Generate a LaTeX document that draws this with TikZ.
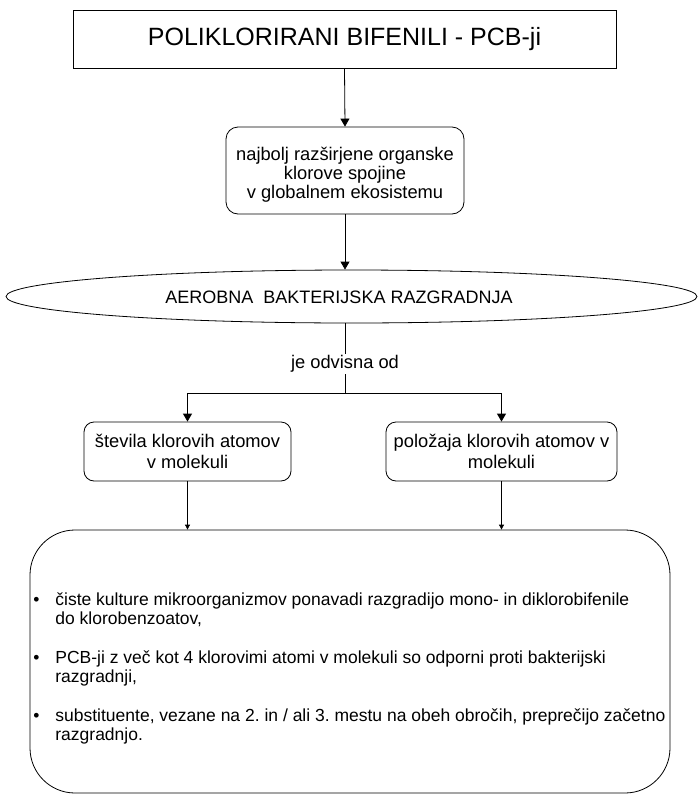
\documentclass[tikz,border=0pt]{standalone}
\usepackage{fontspec}
\setmainfont{Liberation Sans}
\frenchspacing
\usetikzlibrary{arrows.meta,shapes.geometric}
\begin{document}
\begin{tikzpicture}[x=1pt,y=-1pt,line width=0.8pt,
  plainbox/.style={draw,rectangle,inner sep=0pt,align=center},
  roundbox/.style={draw,rectangle,rounded corners=12pt,inner sep=0pt,align=center},
  arr/.style={-{Triangle[width=9pt,length=8pt]}},
  smallarr/.style={-{Triangle[width=5pt,length=5pt]}}]
\useasboundingbox (0,0) rectangle (699,795);
\node[plainbox,minimum width=543pt,minimum height=58pt,font=\fontsize{25}{30}\selectfont] (top) at (344.5,39) {POLIKLORIRANI BIFENILI - PCB-ji};
\node[roundbox,minimum width=238pt,minimum height=87pt] (spread) at (345,170.5) {};
\node[align=center,inner sep=0pt,font=\fontsize{18.3}{18.8}\selectfont] (spreadtext) at (345,175) {najbolj razširjene organske\\klorove spojine\\v globalnem ekosistemu};
\node[draw,ellipse,inner sep=0pt,minimum width=691pt,minimum height=53pt] (aero) at (351.5,296.5) {};
\node[font=\fontsize{18}{20}\selectfont,inner sep=0pt] (aerotext) at (339,297) {AEROBNA\ \ BAKTERIJSKA RAZGRADNJA};
\node[roundbox,rounded corners=10pt,minimum width=207pt,minimum height=59pt,font=\fontsize{18.3}{21}\selectfont] (num) at (187.5,451.5) {števila klorovih atomov\\v molekuli};
\node[roundbox,rounded corners=10pt,minimum width=231pt,minimum height=59pt,font=\fontsize{18.3}{21}\selectfont] (pos) at (501.5,451.5) {položaja klorovih atomov v\\molekuli};
\node[draw,rectangle,rounded corners=45pt,minimum width=640pt,minimum height=263pt] (bottom) at (350,661.5) {};
\coordinate (split) at (345,393);
\draw[arr] (top.south) -- (spread.north);
\draw[arr] (spread.south) -- (spread.south |- aero.north);
\draw (spread.south |- aero.south) -- (split);
\node[fill=white,inner sep=1pt,font=\fontsize{18.3}{20}\selectfont] (dep) at (345,364) {je odvisna od};
\draw[arr] (split) -| (num.north);
\draw[arr] (split) -| (pos.north);
\draw[smallarr] (num.south) -- (num.south |- bottom.north);
\draw[smallarr] (pos.south) -- (pos.south |- bottom.north);
\node[anchor=north west,inner sep=0pt,font=\fontsize{17.5}{19}\selectfont] (items) at (33,592) {%
\begin{minipage}{660pt}\setlength{\parindent}{0pt}%
\makebox[22pt][l]{\textbullet}čiste kulture mikroorganizmov ponavadi razgradijo mono- in diklorobifenile\\
\hspace*{22pt}do klorobenzoatov,\par\vspace{20pt}
\makebox[22pt][l]{\textbullet}PCB-ji z več kot 4 klorovimi atomi v molekuli so odporni proti bakterijski\\
\hspace*{22pt}razgradnji,\par\vspace{20pt}
\makebox[22pt][l]{\textbullet}substituente, vezane na 2. in / ali 3. mestu na obeh obročih, preprečijo začetno\\
\hspace*{22pt}razgradnjo.
\end{minipage}};
\end{tikzpicture}
\end{document}
